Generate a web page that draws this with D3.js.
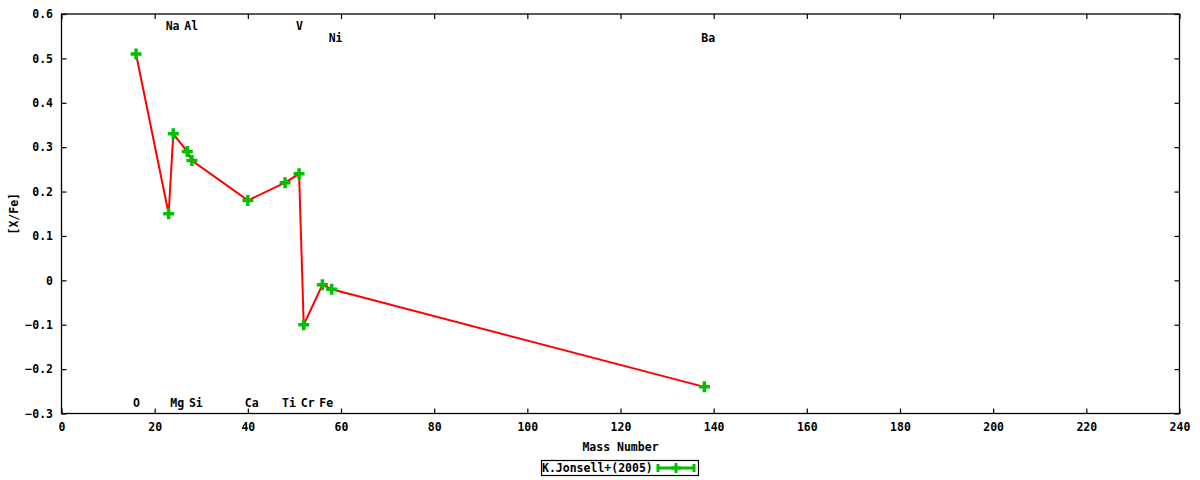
<!DOCTYPE html>
<html>
<head>
<meta charset="utf-8">
<script src="https://cdn.jsdelivr.net/npm/d3@7"></script>
<style>
  html, body { margin: 0; padding: 0; background: #fff; }
  svg { display: block; }
  text { font-family: "DejaVu Sans Mono", "Liberation Mono", monospace; font-weight: bold; font-size: 11.5px; fill: #000; }
</style>
</head>
<body>
<svg id="chart" width="1200" height="480"></svg>
<script>
// ---- data ----
const elements = ["O", "Na", "Mg", "Al", "Si", "Ca", "Ti", "V", "Cr", "Fe", "Ni", "Ba"];
const massNumbers = [16, 23, 24, 27, 28, 40, 48, 51, 52, 56, 58, 138];
const xFe = [0.51, 0.15, 0.33, 0.29, 0.27, 0.18, 0.22, 0.24, -0.10, -0.01, -0.02, -0.24];
// label rows (in data units of [X/Fe]) for the element names
const labelLevels = [-0.276, 0.573, -0.276, 0.573, -0.276, -0.276, -0.276, 0.573, -0.276, -0.276, 0.546, 0.546];
const xTicks = [0, 20, 40, 60, 80, 100, 120, 140, 160, 180, 200, 220, 240];
const yTicks = [-0.3, -0.2, -0.1, 0, 0.1, 0.2, 0.3, 0.4, 0.5, 0.6];
const seriesName = "K.Jonsell+(2005)";
const xTitle = "Mass Number";
const yTitle = "[X/Fe]";

(function () {
// ---- layout ----
const svg = d3.select("#chart");
const pL = 61.5, pR = 1179.5, pT = 14, pB = 413.5;
const x = d3.scaleLinear().domain([0, 240]).range([pL, pR]);
const y = d3.scaleLinear().domain([-0.3, 0.6]).range([pB, pT]);

const fmtY = v => (Math.abs(v) < 1e-9 ? "0" : d3.format(".1f")(v));

// axes (ticks inward, mirrored)
const tickLen = 5;
const gx = svg.append("g").attr("transform", `translate(0,${pB})`)
  .call(d3.axisBottom(x).tickValues(xTicks).tickSize(-tickLen).tickPadding(9).tickFormat(d3.format("d")));
const gxt = svg.append("g").attr("transform", `translate(0,${pT})`)
  .call(d3.axisTop(x).tickValues(xTicks).tickSize(-tickLen).tickFormat(""));
const gy = svg.append("g").attr("transform", `translate(${pL},0)`)
  .call(d3.axisLeft(y).tickValues(yTicks).tickSize(-tickLen).tickPadding(8.5).tickFormat(fmtY));
const gyr = svg.append("g").attr("transform", `translate(${pR},0)`)
  .call(d3.axisRight(y).tickValues(yTicks).tickSize(-tickLen).tickFormat(""));
[gx, gxt, gy, gyr].forEach(g => {
  g.select(".domain").remove();
  g.selectAll(".tick line").attr("stroke", "#000").attr("stroke-width", 1.2);
  g.selectAll(".tick text").attr("font-family", null).attr("font-size", null).style("fill", "#000");
});
gx.selectAll(".tick text").attr("dy", "0.71em");

// border
svg.append("rect").attr("x", pL).attr("y", pT)
  .attr("width", pR - pL).attr("height", pB - pT)
  .attr("fill", "none").attr("stroke", "#000").attr("stroke-width", 1.3);

// axis titles
svg.append("text").attr("x", (pL + pR) / 2).attr("y", 451)
  .attr("text-anchor", "middle").text(xTitle);
svg.append("text").attr("transform", `translate(18,${(pT + pB) / 2}) rotate(-90)`)
  .attr("text-anchor", "middle").text(yTitle);

// element labels
svg.append("g").selectAll("text").data(elements).join("text")
  .attr("x", (d, i) => x(massNumbers[i]) - 3)
  .attr("y", (d, i) => y(labelLevels[i]))
  .attr("dy", "0.36em")
  .attr("text-anchor", "start")
  .text(d => d);

// line
const pts = massNumbers.map((m, i) => [m, xFe[i]]);
svg.append("path").datum(pts)
  .attr("fill", "none").attr("stroke", "#ff0000").attr("stroke-width", 2)
  .attr("d", d3.line().x(d => x(d[0])).y(d => y(d[1])));

// markers
const green = "#00c000";
const plusPath = (cx, cy, r) => `M${cx - r},${cy}H${cx + r}M${cx},${cy - r}V${cy + r}`;
svg.append("g").selectAll("path").data(pts).join("path")
  .attr("d", d => plusPath(x(d[0]), y(d[1]), 5.5))
  .attr("stroke", green).attr("stroke-width", 3.5).attr("fill", "none");

// legend
const lg = svg.append("g");
lg.append("rect").attr("x", 541.5).attr("y", 460.5).attr("width", 157).attr("height", 15)
  .attr("fill", "#fff").attr("stroke", "#000").attr("stroke-width", 1.2);
lg.append("text").attr("x", 542).attr("y", 468).attr("dy", "0.36em").text(seriesName);
const ly = 468, lx1 = 658, lx2 = 694;
lg.append("path")
  .attr("d", `M${lx1},${ly}H${lx2}M${lx1},${ly - 4}V${ly + 4}M${lx2},${ly - 4}V${ly + 4}`)
  .attr("stroke", green).attr("stroke-width", 3).attr("fill", "none");
lg.append("path").attr("d", plusPath((lx1 + lx2) / 2, ly, 5))
  .attr("stroke", green).attr("stroke-width", 3).attr("fill", "none");
})();
</script>
</body>
</html>
